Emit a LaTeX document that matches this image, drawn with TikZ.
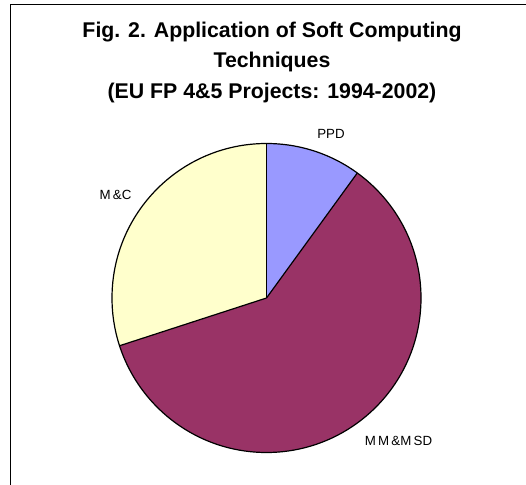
\documentclass[tikz,border=0pt]{standalone}
\usepackage{fontspec}
\setmainfont{Liberation Sans}
\begin{document}
\begin{tikzpicture}[x=1bp,y=1bp,
  slice/.style={draw=black,line width=1.2bp,line join=round},
  titletext/.style={anchor=base,inner sep=0,font=\fontsize{21.3bp}{25bp}\selectfont\bfseries},
  slicelabel/.style={anchor=center,inner sep=0,font=\fontsize{13.3bp}{16bp}\selectfont}]
  \definecolor{ppdblue}{HTML}{9999FF}
  \definecolor{mmplum}{HTML}{993366}
  \definecolor{mccream}{HTML}{FFFFCC}
  \useasboundingbox (0,0) rectangle (526,485);
  % chart frame, running past the right and bottom edges
  \draw[line width=1bp] (10,-10) -- (10,480) -- (530,480);
  % title
  \node[titletext] (t1) at (272,447.5) {Fig. 2. Application of Soft Computing};
  \node[titletext] (t2) at (272,417) {Techniques};
  \node[titletext] (t3) at (272,386.5) {(EU FP 4\&5 Projects: 1994-2002)};
  % pie
  \coordinate (c) at (266.5,187);
  \def\rad{154.5}
  \fill[mmplum] (c) -- ++(198:\rad) arc[start angle=198,end angle=414,radius=\rad] -- cycle;
  \fill[ppdblue] (c) -- ++(54:\rad) arc[start angle=54,end angle=90,radius=\rad] -- cycle;
  \fill[mccream] (c) -- ++(90:\rad) arc[start angle=90,end angle=198,radius=\rad] -- cycle;
  \draw[slice] (c) circle[radius=\rad];
  \draw[slice] (c) -- ++(90:\rad);
  \draw[slice] (c) -- ++(54:\rad);
  \draw[slice] (c) -- ++(198:\rad);
  % labels
  \node[slicelabel] (ppd) at (331,351) {PPD};
  \node[slicelabel] (mc) at (115.5,290) {M\,\&C};
  \node[slicelabel] (mm) at (398.5,44) {M\,M\,\&M\,SD};
\end{tikzpicture}
\end{document}
